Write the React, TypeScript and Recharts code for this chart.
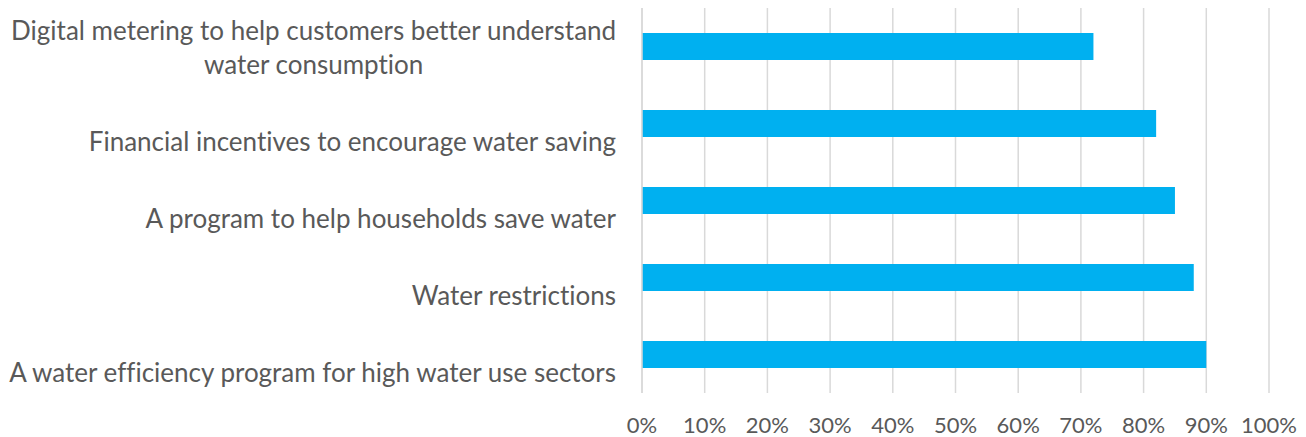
import { Bar, BarChart, CartesianGrid, XAxis, YAxis } from "recharts";

const categories = [
  "Digital metering to help customers better understand water consumption",
  "Financial incentives to encourage water saving",
  "A program to help households save water",
  "Water restrictions",
  "A water efficiency program for high water use sectors",
];

const shares = [72, 82, 85, 88, 90];

const xTicks = [0, 10, 20, 30, 40, 50, 60, 70, 80, 90, 100];

// manual line breaks, the way Excel wrapped them
const wrapped: Record<string, string[]> = {
  [categories[0]]: [
    "Digital metering to help customers better understand",
    "water consumption",
  ],
};

const data = categories.map((name, i) => ({ name, value: shares[i] }));

const FONT = "Lato, 'Open Sans', sans-serif";
const CAT_SIZE = 26;
const TICK_SIZE = 22;
const TEXT = "#595959";
const noLig = { fontVariantLigatures: "none" } as const;

let ctx: CanvasRenderingContext2D | null = null;
function textWidth(s: string, size: number) {
  if (!ctx) ctx = document.createElement("canvas").getContext("2d");
  if (!ctx) return s.length * size * 0.5;
  ctx.font = `${size}px Lato`;
  return ctx.measureText(s).width;
}

function CategoryTick(props: any) {
  const { x, y, payload } = props;
  const lines = wrapped[payload.value] ?? [payload.value];
  const right = x - 18;
  const lh = 34;
  if (lines.length === 1) {
    // Excel drops single-line labels a little below the bar
    return (
      <text x={right} y={y + 17} textAnchor="end" dominantBaseline="central"
        fill={TEXT} fontSize={CAT_SIZE} fontFamily={FONT} style={noLig}>
        {lines[0]}
      </text>
    );
  }
  const w = Math.max(...lines.map((l) => textWidth(l, CAT_SIZE)));
  const cx = right - w / 2;
  const top = y - ((lines.length - 1) * lh) / 2;
  return (
    <text textAnchor="middle" dominantBaseline="central"
      fill={TEXT} fontSize={CAT_SIZE} fontFamily={FONT} style={noLig}>
      {lines.map((l, i) => (
        <tspan key={i} x={cx} y={top + i * lh}>{l}</tspan>
      ))}
    </text>
  );
}

function PercentTick(props: any) {
  const { x, y, payload } = props;
  return (
    <text x={x} y={y + 23} textAnchor="middle" dominantBaseline="central"
      fill={TEXT} fontSize={TICK_SIZE} fontFamily={FONT}>
      {`${payload.value}%`}
    </text>
  );
}

export default function App() {
  return (
    <div style={{ position: "absolute", left: 0, top: 0, background: "#fff" }}>
      <BarChart
        width={1306}
        height={437}
        data={data}
        layout="vertical"
        margin={{ top: 8, right: 37, bottom: 0, left: 0 }}
        barSize={27}
      >
        <CartesianGrid horizontal={false} stroke="#d9d9d9" strokeWidth={1.5} />
        <XAxis
          type="number"
          domain={[0, 100]}
          ticks={xTicks}
          axisLine={false}
          tickLine={false}
          height={44}
          tick={<PercentTick />}
          interval={0}
        />
        <YAxis
          type="category"
          dataKey="name"
          width={642}
          axisLine={{ stroke: "#d9d9d9", strokeWidth: 1.5 }}
          tickLine={false}
          tick={<CategoryTick />}
          interval={0}
        />
        <Bar dataKey="value" fill="#00B0F0" isAnimationActive={false} />
      </BarChart>
    </div>
  );
}
